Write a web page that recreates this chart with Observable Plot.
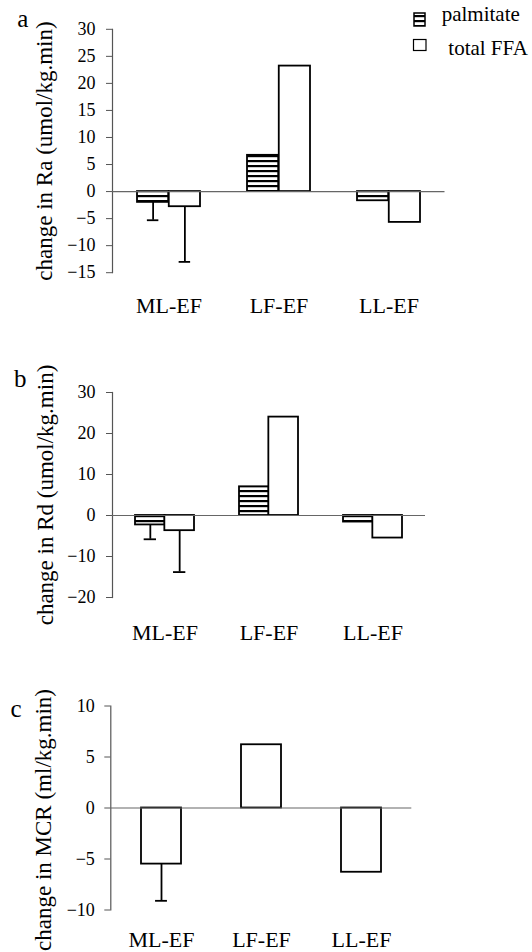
<!DOCTYPE html>
<html>
<head>
<meta charset="utf-8">
<script src="https://cdn.jsdelivr.net/npm/d3@7"></script>
<script src="https://cdn.jsdelivr.net/npm/@observablehq/plot@0.6"></script>
<style>
  body { margin: 0; background: #fff; }
  #root { position: relative; width: 532px; height: 952px; overflow: hidden; font-family: "Liberation Serif", "Times New Roman", serif; }
  #root svg, #root svg text { font-family: "Liberation Serif", "Times New Roman", serif !important; }
  .panel { position: absolute; left: 0; }
</style>
</head>
<body>
<div id="root"></div>
<script>
// ---------- data ----------
const groups = ["ML-EF", "LF-EF", "LL-EF"];
const seriesNames = ["palmitate", "total FFA"];

const raPalmitate    = [-2.0, 6.7, -1.7];
const raTotalFFA     = [-2.8, 23.2, -5.7];
const raPalmitateErr = [3.3, null, null];
const raTotalFFAErr  = [10.2, null, null];
const raTicks = [30, 25, 20, 15, 10, 5, 0, -5, -10, -15];

const rdPalmitate    = [-2.3, 7.0, -1.6];
const rdTotalFFA     = [-3.7, 24.0, -5.5];
const rdPalmitateErr = [3.5, null, null];
const rdTotalFFAErr  = [10.1, null, null];
const rdTicks = [30, 20, 10, 0, -10, -20];

const mcrValues = [-5.5, 6.2, -6.3];
const mcrErr    = [3.6, null, null];
const mcrTicks  = [10, 5, 0, -5, -10];

const panelLetters = ["a", "b", "c"];
const panelTitles = [
  "change in Ra (umol/kg.min)",
  "change in Rd (umol/kg.min)",
  "change in MCR (ml/kg.min)"
];

// ---------- helpers ----------
const FONT = '"Liberation Serif", "Times New Roman", serif';
const root = document.getElementById("root");

// legend + shared hatch pattern
const legendSvg = d3.select(root).append("svg")
  .attr("width", 532).attr("height", 70)
  .style("position", "absolute").style("left", 0).style("top", 0);
const pat = legendSvg.append("defs").append("pattern")
  .attr("id", "hatch").attr("patternUnits", "userSpaceOnUse")
  .attr("width", 10).attr("height", 5);
pat.append("rect").attr("width", 10).attr("height", 5).attr("fill", "#fff");
pat.append("rect").attr("width", 10).attr("height", 2.2).attr("fill", "#000");

function bandWidth(rangeWidth, n, pI, pO) {
  const step = rangeWidth / (n - pI + 2 * pO);
  return step * (1 - pI);
}

function idxWith(arr) { return arr.map((v, i) => i).filter(i => arr[i] != null); }

function groupedPanel(cfg) {
  const width = 532;
  const rangeW = width - cfg.ml - cfg.mr;
  const bw = bandWidth(rangeW, groups.length, cfg.pI, cfg.pO);
  const half = bw / 2, q = bw / 4, cap = 12;
  const idx = groups.map((g, i) => i);
  const ePal = idxWith(cfg.palErr), eTot = idxWith(cfg.totErr);
  const plot = Plot.plot({
    width, height: cfg.height,
    marginLeft: cfg.ml, marginRight: cfg.mr, marginTop: cfg.mt, marginBottom: cfg.mb,
    style: {fontFamily: FONT, background: "transparent", overflow: "visible"},
    x: {domain: groups, paddingInner: cfg.pI, paddingOuter: cfg.pO, label: null},
    y: {domain: cfg.domain, label: null},
    marks: [
      Plot.frame({anchor: "left", stroke: "#555", strokeWidth: 1.2}),
      Plot.axisY({ticks: cfg.ticks, tickSize: 6, tickPadding: 11, fontSize: 18, fontFamily: FONT, stroke: "#555", fill: "#000", label: null}),
      Plot.axisX({tickSize: 0, tickPadding: cfg.xpad, fontSize: 22, fontFamily: FONT, fill: "#000", label: null}),
      Plot.barY(idx, {x: i => groups[i], y: i => cfg.pal[i], fill: "url(#hatch)", stroke: "#000", strokeWidth: 1.8, insetRight: half}),
      Plot.barY(idx, {x: i => groups[i], y: i => cfg.tot[i], fill: "#fff", stroke: "#000", strokeWidth: 1.8, insetLeft: half}),
      Plot.ruleY([0], {stroke: "#666", strokeWidth: 1.2}),
      Plot.ruleX(ePal, {x: i => groups[i], y1: i => cfg.pal[i], y2: i => cfg.pal[i] - cfg.palErr[i], dx: -q, stroke: "#000", strokeWidth: 1.8}),
      Plot.tickY(ePal, {x: i => groups[i], y: i => cfg.pal[i] - cfg.palErr[i], dx: -q, insetLeft: (bw - cap) / 2, insetRight: (bw - cap) / 2, stroke: "#000", strokeWidth: 1.8}),
      Plot.ruleX(eTot, {x: i => groups[i], y1: i => cfg.tot[i], y2: i => cfg.tot[i] - cfg.totErr[i], dx: q, stroke: "#000", strokeWidth: 1.8}),
      Plot.tickY(eTot, {x: i => groups[i], y: i => cfg.tot[i] - cfg.totErr[i], dx: q, insetLeft: (bw - cap) / 2, insetRight: (bw - cap) / 2, stroke: "#000", strokeWidth: 1.8}),
      Plot.text([cfg.title], {text: d => d, frameAnchor: "left", rotate: -90, lineAnchor: "bottom", textAnchor: "middle", dx: cfg.titleX - cfg.ml, dy: cfg.titleDy, fontSize: 23, fontFamily: FONT, fill: "#000"}),
      Plot.text([cfg.letter], {text: d => d, frameAnchor: "top-left", lineAnchor: "bottom", textAnchor: "start", dx: cfg.letterX - cfg.ml, dy: cfg.letterY - cfg.mt, fontSize: 25, fontFamily: FONT, fill: "#000"})
    ]
  });
  plot.classList.add("panel");
  plot.style.top = cfg.top + "px";
  root.appendChild(plot);
}

// panel a
groupedPanel({
  top: 0, height: 320, ml: 112, mr: 87.5, mt: 28.8, mb: 47.8,
  pI: 0.427, pO: 0.213, domain: [-15, 30], ticks: raTicks, xpad: 25,
  pal: raPalmitate, tot: raTotalFFA, palErr: raPalmitateErr, totErr: raTotalFFAErr,
  title: panelTitles[0], titleX: 51.5, titleDy: 0,
  letter: panelLetters[0], letterX: 16.7, letterY: 26.7
});

// panel b
groupedPanel({
  top: 330, height: 330, ml: 112, mr: 107, mt: 62, mb: 63,
  pI: 0.437, pO: 0.22, domain: [-20, 30], ticks: rdTicks, xpad: 27,
  pal: rdPalmitate, tot: rdTotalFFA, palErr: rdPalmitateErr, totErr: rdTotalFFAErr,
  title: panelTitles[1], titleX: 52, titleDy: 0,
  letter: panelLetters[1], letterX: 13.6, letterY: 56
});

// panel c
(function () {
  const cfg = {top: 660, height: 292, ml: 110.3, mr: 120.7, mt: 45.5, mb: 42.5, pI: 0.6, pO: 0.3};
  const rangeW = 532 - cfg.ml - cfg.mr;
  const bw = bandWidth(rangeW, groups.length, cfg.pI, cfg.pO);
  const cap = 12;
  const idx = groups.map((g, i) => i);
  const eIdx = idxWith(mcrErr);
  const plot = Plot.plot({
    width: 532, height: cfg.height,
    marginLeft: cfg.ml, marginRight: cfg.mr, marginTop: cfg.mt, marginBottom: cfg.mb,
    style: {fontFamily: FONT, background: "transparent", overflow: "visible"},
    x: {domain: groups, paddingInner: cfg.pI, paddingOuter: cfg.pO, label: null},
    y: {domain: [-10, 10], label: null},
    marks: [
      Plot.frame({anchor: "left", stroke: "#555", strokeWidth: 1.2}),
      Plot.axisY({ticks: mcrTicks, tickSize: 6, tickPadding: 10, fontSize: 18, fontFamily: FONT, stroke: "#555", fill: "#000", label: null}),
      Plot.axisX({tickSize: 0, tickPadding: 21, fontSize: 22, fontFamily: FONT, fill: "#000", label: null}),
      Plot.barY(idx, {x: i => groups[i], y: i => mcrValues[i], fill: "#fff", stroke: "#000", strokeWidth: 1.8}),
      Plot.ruleY([0], {stroke: "#666", strokeWidth: 1.2}),
      Plot.ruleX(eIdx, {x: i => groups[i], y1: i => mcrValues[i], y2: i => mcrValues[i] - mcrErr[i], stroke: "#000", strokeWidth: 1.8}),
      Plot.tickY(eIdx, {x: i => groups[i], y: i => mcrValues[i] - mcrErr[i], insetLeft: (bw - cap) / 2, insetRight: (bw - cap) / 2, stroke: "#000", strokeWidth: 1.8}),
      Plot.text([panelTitles[2]], {text: d => d, frameAnchor: "left", rotate: -90, lineAnchor: "bottom", textAnchor: "middle", dx: 50 - cfg.ml, dy: 12, fontSize: 23, fontFamily: FONT, fill: "#000"}),
      Plot.text([panelLetters[2]], {text: d => d, frameAnchor: "top-left", lineAnchor: "bottom", textAnchor: "start", dx: 10 - cfg.ml, dy: 56 - cfg.mt, fontSize: 25, fontFamily: FONT, fill: "#000"})
    ]
  });
  plot.classList.add("panel");
  plot.style.top = cfg.top + "px";
  root.appendChild(plot);
})();

// legend (drawn on top)
const leg = legendSvg.append("g");
leg.append("rect").attr("x", 414).attr("y", 13).attr("width", 11).attr("height", 13)
  .attr("fill", "url(#hatch)").attr("stroke", "#000").attr("stroke-width", 1.5);
leg.append("text").attr("x", 441.7).attr("y", 21).attr("font-size", 21).attr("font-family", FONT).attr("fill", "#000").text(seriesNames[0]);
leg.append("rect").attr("x", 413.5).attr("y", 39.5).attr("width", 12.5).attr("height", 11)
  .attr("fill", "#fff").attr("stroke", "#000").attr("stroke-width", 1.2);
leg.append("text").attr("x", 448.3).attr("y", 55).attr("font-size", 21).attr("font-family", FONT).attr("fill", "#000").text(seriesNames[1]);
root.appendChild(legendSvg.node());
</script>
</body>
</html>
